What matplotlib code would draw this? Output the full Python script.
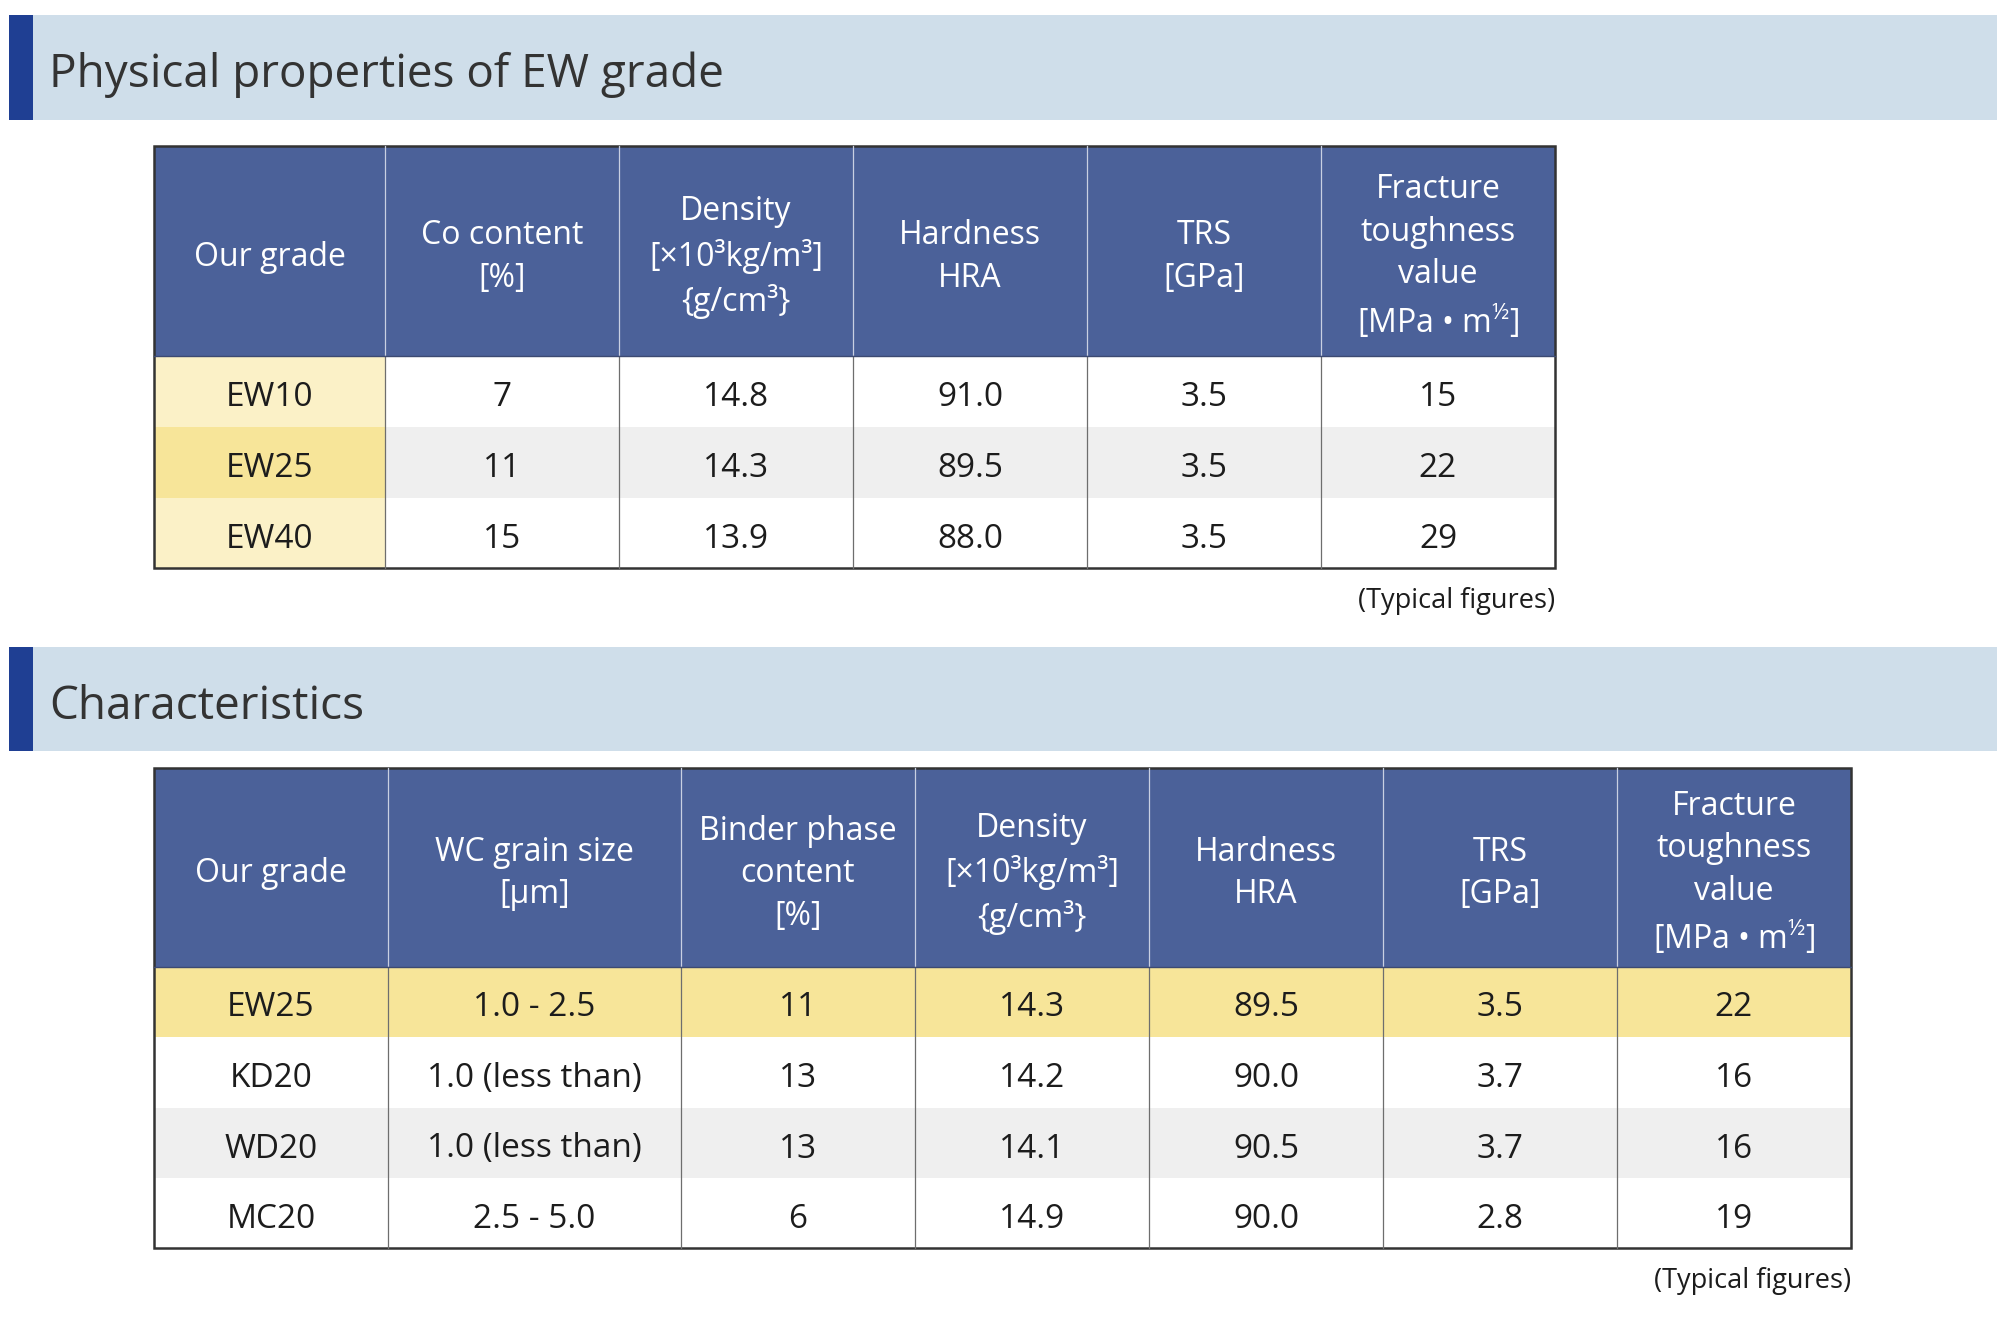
import matplotlib.pyplot as plt
from matplotlib.patches import Rectangle

plt.rcParams['font.family'] = ['Open Sans', 'DejaVu Sans']
plt.rcParams['mathtext.fontset'] = 'custom'
plt.rcParams['mathtext.rm'] = 'Open Sans'
plt.rcParams['mathtext.it'] = 'Open Sans:italic'
plt.rcParams['mathtext.bf'] = 'Open Sans:bold'

# === datos tabla 1 ===
t1_title = 'Physical properties of EW grade'
t1_header = ['Our grade', 'Co content\n[%]', 'Density\n[×10³kg/m³]\n{g/cm³}',
             'Hardness\nHRA', 'TRS\n[GPa]', 'Fracture\ntoughness\nvalue\n[MPa • m$^{½}$]']
t1_grade = ['EW10', 'EW25', 'EW40']
t1_co = ['7', '11', '15']
t1_density = ['14.8', '14.3', '13.9']
t1_hardness = ['91.0', '89.5', '88.0']
t1_trs = ['3.5', '3.5', '3.5']
t1_kic = ['15', '22', '29']

# === datos tabla 2 ===
t2_title = 'Characteristics'
t2_header = ['Our grade', 'WC grain size\n[µm]', 'Binder phase\ncontent\n[%]',
             'Density\n[×10³kg/m³]\n{g/cm³}', 'Hardness\nHRA', 'TRS\n[GPa]',
             'Fracture\ntoughness\nvalue\n[MPa • m$^{½}$]']
t2_grade = ['EW25', 'KD20', 'WD20', 'MC20']
t2_grain = ['1.0 - 2.5', '1.0 (less than)', '1.0 (less than)', '2.5 - 5.0']
t2_binder = ['11', '13', '13', '6']
t2_density = ['14.3', '14.2', '14.1', '14.9']
t2_hardness = ['89.5', '90.0', '90.5', '90.0']
t2_trs = ['3.5', '3.7', '3.7', '2.8']
t2_kic = ['22', '16', '16', '19']

note = '(Typical figures)'

# === colores ===
BAND = '#cfdeea'
BAR = '#1f3f93'
HEAD = '#4b6199'
YEL_L = '#fbf1c7'
YEL = '#f7e599'
GREY = '#efefef'
TXT = '#1c1c1c'

fig = plt.figure(figsize=(20, 13.26), dpi=100)
ax = fig.add_axes([0, 0, 1, 1])
ax.set_xlim(0, 2000)
ax.set_ylim(1326, 0)
ax.axis('off')


def banda(y0, y1, titulo):
    ax.add_patch(Rectangle((9, y0), 1988, y1 - y0, color=BAND, lw=0))
    ax.add_patch(Rectangle((9, y0), 24, y1 - y0, color=BAR, lw=0))
    ax.text(49, y0 + 72, titulo, fontsize=33, color='#333333', va='baseline', ha='left')


def tabla(edges, y_head, y_rows, header, columnas, fondos):
    x0, x1 = edges[0], edges[-1]
    # cabecera
    ax.add_patch(Rectangle((x0, y_head[0]), x1 - x0, y_head[1] - y_head[0], color=HEAD, lw=0))
    for j, h in enumerate(header):
        xc = (edges[j] + edges[j + 1]) / 2
        ax.text(xc, (y_head[0] + y_head[1]) / 2 + 6, h, color='white', fontsize=23,
                ha='center', va='center', multialignment='center', linespacing=1.38)
    # filas
    for i in range(len(y_rows) - 1):
        ya, yb = y_rows[i], y_rows[i + 1]
        for j, col in enumerate(columnas):
            ax.add_patch(Rectangle((edges[j], ya), edges[j + 1] - edges[j], yb - ya,
                                   color=fondos[i][j], lw=0))
            ax.text((edges[j] + edges[j + 1]) / 2, (ya + yb) / 2 + 6, col[i], color=TXT,
                    fontsize=24, ha='center', va='center')
    # lineas
    for xe in edges[1:-1]:
        ax.plot([xe, xe], [y_head[0], y_head[1]], color='#c9d0e2', lw=0.9)
        ax.plot([xe, xe], [y_rows[0], y_rows[-1]], color='#6e6e6e', lw=0.9)
    ax.plot([x0, x1], [y_head[1], y_head[1]], color='#3c4a72', lw=1.0)
    ax.add_patch(Rectangle((x0, y_head[0]), x1 - x0, y_rows[-1] - y_head[0],
                           fill=False, ec='#333333', lw=1.8))
    ax.text(x1, y_rows[-1] + 33, note, color=TXT, fontsize=19.5, ha='right', va='center')


# === tabla 1 ===
banda(15, 120, t1_title)
e1 = [154, 385, 619, 853, 1087, 1321, 1555]
f1 = [[YEL_L] + ['white'] * 5,
      [YEL] + [GREY] * 5,
      [YEL_L] + ['white'] * 5]
tabla(e1, (146, 356), [356, 427, 498, 568], t1_header,
      [t1_grade, t1_co, t1_density, t1_hardness, t1_trs, t1_kic], f1)

# === tabla 2 ===
banda(647, 751, t2_title)
e2 = [154, 388, 681, 915, 1149, 1383, 1617, 1851]
f2 = [[YEL] * 7, ['white'] * 7, [GREY] * 7, ['white'] * 7]
tabla(e2, (768, 967), [967, 1037, 1108, 1178, 1248], t2_header,
      [t2_grade, t2_grain, t2_binder, t2_density, t2_hardness, t2_trs, t2_kic], f2)

plt.savefig('out.png', dpi=100)
